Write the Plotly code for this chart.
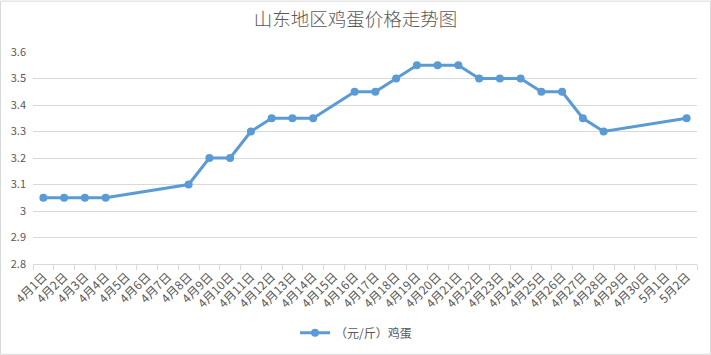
import plotly.graph_objects as go

dates = ["4月1日","4月2日","4月3日","4月4日","4月5日","4月6日","4月7日","4月8日","4月9日","4月10日",
         "4月11日","4月12日","4月13日","4月14日","4月15日","4月16日","4月17日","4月18日","4月19日","4月20日",
         "4月21日","4月22日","4月23日","4月24日","4月25日","4月26日","4月27日","4月28日","4月29日","4月30日",
         "5月1日","5月2日"]
prices = [3.05,3.05,3.05,3.05,None,None,None,3.1,3.2,3.2,
          3.3,3.35,3.35,3.35,None,3.45,3.45,3.5,3.55,3.55,
          3.55,3.5,3.5,3.5,3.45,3.45,3.35,3.3,None,None,
          None,3.35]
ytickvals = [2.8,2.9,3.0,3.1,3.2,3.3,3.4,3.5,3.6]
yticktext = ["2.8","2.9","3","3.1","3.2","3.3","3.4","3.5","3.6"]

font = "Noto Sans CJK SC, Noto Sans, sans-serif"
gray = "#595959"

fig = go.Figure()
fig.add_trace(go.Scatter(
    x=dates, y=prices, mode="lines+markers", name="（元/斤）鸡蛋",
    connectgaps=True,
    line=dict(color="#5B9BD5", width=3),
    marker=dict(color="#5B9BD5", size=8),
))

W, H = 711, 355
ml, mr, mt, mb = 33, 14, 51.5, 91
pw, ph = W - ml - mr, H - mt - mb

fig.update_layout(
    width=W, height=H,
    margin=dict(l=ml, r=mr, t=mt, b=mb, pad=0, autoexpand=False),
    paper_bgcolor="white", plot_bgcolor="white",
    font=dict(family=font, color=gray, size=11),
    title=dict(text="山东地区鸡蛋价格走势图", x=0.5, xanchor="center", y=1-20/H, yanchor="middle",
               font=dict(size=18.5, color=gray, family=font, weight=300)),
    showlegend=True,
    legend=dict(orientation="h", x=0.5-9/pw, xanchor="center", y=-(333-(mt+ph))/ph, yanchor="middle",
                font=dict(size=12, color=gray, family=font), bgcolor="rgba(0,0,0,0)"),
    xaxis=dict(type="category", range=[-0.5, len(dates)-0.5], tickson="boundaries",
               ticks="outside", ticklen=5, tickcolor="#d9d9d9", showline=True, linecolor="#d9d9d9",
               linewidth=1, showgrid=False, tickangle=-45, tickfont=dict(size=12, color=gray),
               fixedrange=True, automargin=False),
    yaxis=dict(range=[2.8, 3.6], tickvals=ytickvals, ticktext=yticktext, showgrid=True,
               gridcolor="#d9d9d9", gridwidth=1, zeroline=False, showline=False,
               tickfont=dict(size=11, color=gray), ticks="", ticklabelstandoff=6, automargin=False,
               fixedrange=True),
)

fig.add_shape(type="rect", xref="paper", yref="paper",
              x0=(-ml+0.5)/pw, x1=1+(mr-0.5)/pw, y0=(-mb+0.5)/ph, y1=1+(mt-0.5)/ph,
              line=dict(color="#d9d9d9", width=1), fillcolor="rgba(0,0,0,0)", layer="below")

fig.write_html("out.html", config={"displayModeBar": False},
               post_script="document.body.style.margin='0';document.body.style.overflow='hidden';")
